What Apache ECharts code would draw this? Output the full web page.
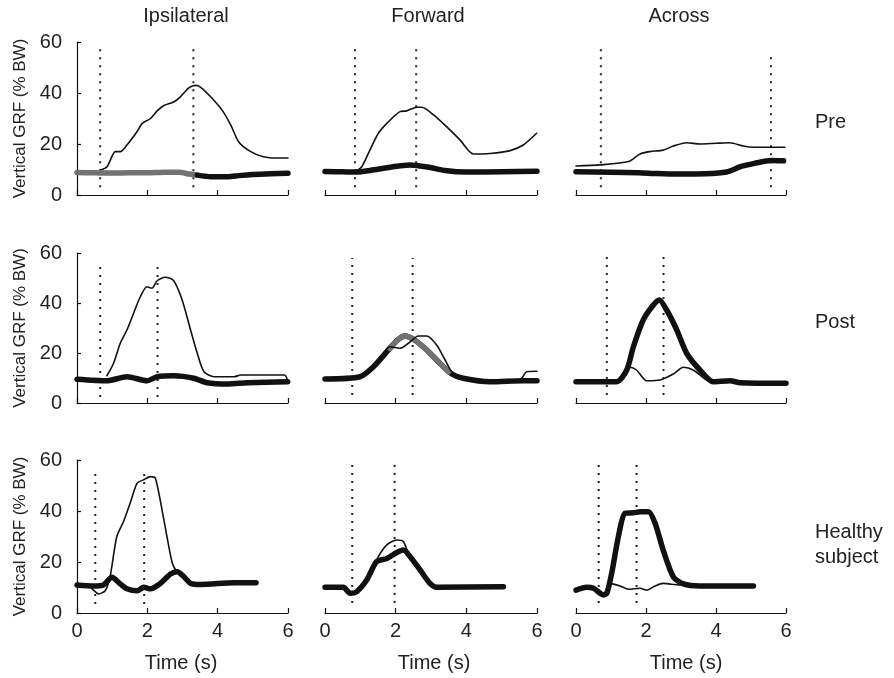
<!DOCTYPE html>
<html><head><meta charset="utf-8">
<script src="https://cdn.jsdelivr.net/npm/echarts@6/dist/echarts.min.js"></script>
<style>html,body{margin:0;padding:0;background:#fff}#c{width:894px;height:678px}</style>
</head><body><div id="c"></div>
<script>
// ---------- DATA ----------
const columnTitles = ['Ipsilateral', 'Forward', 'Across'];
const rowTitles = ['Pre', 'Post', 'Healthy\nsubject'];
const yTicks = [0, 20, 40, 60];
const xTicks = [0, 2, 4, 6];
const yAxisTitle = 'Vertical GRF (% BW)';
const xAxisTitle = 'Time (s)';

// Row 1: Pre
const ipsiPreThin = [[0.66,9.8],[0.85,11],[1.09,17],[1.23,17],[1.42,19.6],[1.7,24.7],[1.85,28],[2.09,30],[2.28,33],[2.46,35],[2.75,36.5],[2.94,38.5],[3.18,42],[3.37,43],[3.5,42.4],[3.8,38.5],[4.14,33],[4.37,27.5],[4.6,20.8],[4.94,17],[5.3,15],[5.7,14.5],[6.0,14.5]];
const ipsiPreThickGrey = [[0,8.8],[0.5,8.7],[1,8.6],[1.5,8.7],[2,8.7],[2.5,8.9],[2.9,8.9],[3.2,8.2],[3.42,7.8]];
const ipsiPreThick = [[3.42,7.8],[3.8,7.2],[4.3,7.2],[4.6,7.6],[5,8],[5.5,8.3],[6,8.5]];
const fwdPreThin = [[0.85,9.2],[1.04,11.1],[1.27,17.6],[1.51,24.2],[1.75,28.1],[2.12,32.7],[2.31,33],[2.6,34.4],[2.74,34.4],[3.07,31.4],[3.44,26.8],[3.82,21.6],[4.2,16.1],[4.67,16.3],[5.24,17.4],[5.61,19.6],[5.99,24.2]];
const fwdPreThick = [[0,9.2],[0.5,9.1],[0.9,9.0],[1.3,9.7],[1.8,10.8],[2.4,11.8],[2.9,11.0],[3.4,9.6],[4,9.0],[5,9.1],[6,9.3]];
const acrPreThin = [[0,11.4],[0.69,11.8],[1.5,13.1],[1.83,16.1],[2.11,17],[2.49,17.6],[2.78,19.2],[3.16,20.5],[3.54,20],[4.02,20.3],[4.4,20.5],[4.78,19.2],[5.07,18.7],[5.54,18.7],[5.97,18.7]];
const acrPreThick = [[0,9.1],[1,8.9],[1.8,8.7],[2.3,8.4],[2.9,8.2],[3.7,8.3],[4.3,9.0],[4.7,11.1],[5.1,12.4],[5.57,13.5],[5.93,13.4]];

// Row 2: Post
const ipsiPostThin = [[0.85,10.9],[1.04,15.9],[1.23,23.9],[1.42,29.2],[1.61,35.9],[1.8,42.5],[1.99,46.5],[2.13,45.9],[2.28,48.9],[2.51,50.3],[2.75,48.9],[2.99,41.2],[3.23,29.2],[3.42,19.9],[3.61,12.5],[3.9,10.5],[4.47,10.5],[4.66,11.2],[5.9,11.2],[5.99,8.9]];
const ipsiPostThick = [[0,9.5],[0.85,8.9],[1.42,10.5],[1.99,8.9],[2.28,10.5],[2.75,10.9],[3.32,9.9],[3.7,8.1],[4.28,7.6],[4.85,8.1],[5.99,8.5]];
const fwdPostThin = [[0,9.6],[0.99,10.5],[1.37,14.5],[1.84,22.5],[2.12,21.9],[2.36,23.9],[2.64,26.8],[2.88,26.8],[3.16,23.2],[3.4,17.2],[3.59,12.5],[3.91,10],[4.67,8.8],[5.5,9],[5.71,12.5],[6,12.7]];
const fwdPostThick = [[0,9.6],[0.99,10.5],[1.37,14.5],[1.75,20.5],[2.03,24.9],[2.26,26.8],[2.5,25.5],[2.88,21.2],[3.25,15.9],[3.59,11.6],[3.91,9.9],[4.67,8.5],[5.61,8.9],[6,8.9]];
const fwdPostThickGrey = [[1.84,21.8],[2.03,24.9],[2.26,26.8],[2.5,25.5],[2.88,21.2],[3.25,15.9],[3.5,12.5]];
const acrPostThin = [[0,8.5],[1.16,8.5],[1.4,12],[1.54,14.3],[1.73,13.2],[2.02,8.9],[2.4,9.2],[2.78,11.6],[3.07,14.3],[3.35,13.2],[3.73,9.2],[3.95,8.4]];
const acrPostThick = [[0,8.5],[1.16,8.5],[1.45,13.2],[1.64,22.5],[1.92,33.2],[2.21,39.2],[2.38,41.2],[2.59,37.2],[2.88,29.2],[3.16,19.9],[3.54,13.2],[3.92,8.5],[4.4,8.9],[4.69,8.1],[6,7.9]];

// Row 3: Healthy subject
const ipsiHealthyThin = [[0,11],[0.3,10.8],[0.47,9],[0.61,7.5],[0.8,8.7],[0.94,14.2],[1.13,29.9],[1.32,35.8],[1.51,43],[1.71,50.9],[1.89,52.2],[2.09,53.5],[2.23,52.8],[2.47,36.5],[2.71,19.5],[2.85,16.2],[3.04,14.2],[3.23,11.6],[3.51,11.2],[4.47,11.9],[5.09,11.9]];
const ipsiHealthyThick = [[0,11],[0.47,10.6],[0.75,11],[0.99,14],[1.23,11.4],[1.42,9.5],[1.71,8.7],[1.9,10.1],[2.09,9.5],[2.37,11.6],[2.66,15.3],[2.85,16.2],[3.04,14.2],[3.23,11.6],[3.51,11.2],[4.47,11.9],[5.09,11.9]];
const fwdHealthyThin = [[0,10.1],[0.52,10.1],[0.71,7.7],[0.9,8.4],[1.18,12.9],[1.51,22.1],[1.75,26.7],[2.03,28.6],[2.22,28],[2.36,23.4],[2.69,16.9],[2.97,11.6],[3.16,10.1],[3.56,9.9]];
const fwdHealthyThick = [[0,10.1],[0.52,10.1],[0.71,7.7],[0.9,8.4],[1.18,12.9],[1.46,20.1],[1.75,21.4],[2.03,23.7],[2.22,24.7],[2.41,22.1],[2.69,16.9],[2.97,11.6],[3.16,10.1],[5.05,10.3]];
const acrHealthyThin = [[0,9],[0.3,10.1],[0.5,9.7],[0.78,7.1],[0.88,8.5],[0.97,11.6],[1.26,10.6],[1.5,9.3],[1.83,9.7],[2.02,9],[2.26,10.6],[2.49,11.6],[2.97,11],[3.3,11]];
const acrHealthyThick = [[0,9],[0.3,10.1],[0.5,9.7],[0.78,7.1],[0.88,7.7],[1.02,15.6],[1.21,29.9],[1.4,39.1],[1.64,39.3],[1.83,39.7],[2.07,39.7],[2.26,35.2],[2.49,24.7],[2.78,14.2],[3.07,11.4],[3.54,10.6],[5.07,10.6]];

// Event markers (s) per panel, row-major
const eventTimes = [[0.66,3.31],[0.85,2.58],[0.71,5.57],[0.66,2.29],[0.77,2.48],[0.88,2.5],[0.52,1.91],[0.77,1.97],[0.65,1.73]];
// Vertical extent of each marker (% BW), per panel
const eventSpan = [[[3,58.8],[3,58.8]],[[3,58.8],[3,58.8]],[[3,58.8],[3,55.7]],[[2.4,55],[2.4,55]],[[3.2,58],[3.2,58]],[[3.2,58.5],[3.2,58.5]],[[3.5,55],[3.5,55]],[[3.9,58],[3.9,58]],[[3.9,58],[3.9,58]]];

// ---------- LAYOUT ----------
const FONT = "'Liberation Sans', Arial, Helvetica, sans-serif";
const INK = '#111';
const GREY = '#727272';
const colBox = [{left:77,width:211},{left:325,width:212},{left:576,width:210}];
const rowBox = [{top:42,height:153},{top:253,height:150},{top:460,height:153}];

const panels = [
  [{d:ipsiPreThin,k:'thin'},{d:ipsiPreThickGrey,k:'grey'},{d:ipsiPreThick,k:'thick'}],
  [{d:fwdPreThin,k:'thin'},{d:fwdPreThick,k:'thick'}],
  [{d:acrPreThin,k:'thin'},{d:acrPreThick,k:'thick'}],
  [{d:ipsiPostThin,k:'thin'},{d:ipsiPostThick,k:'thick'}],
  [{d:fwdPostThick,k:'thick'},{d:fwdPostThickGrey,k:'grey'},{d:fwdPostThin,k:'thin'}],
  [{d:acrPostThin,k:'thin'},{d:acrPostThick,k:'thick'}],
  [{d:ipsiHealthyThin,k:'thin'},{d:ipsiHealthyThick,k:'thick'}],
  [{d:fwdHealthyThin,k:'thin'},{d:fwdHealthyThick,k:'thick'}],
  [{d:acrHealthyThin,k:'thin'},{d:acrHealthyThick,k:'thick'}]
];

const grid = [], xAxis = [], yAxis = [], series = [];
for (let r = 0; r < 3; r++) {
  for (let c = 0; c < 3; c++) {
    const p = r * 3 + c;
    grid.push({left: colBox[c].left, width: colBox[c].width, top: rowBox[r].top, height: rowBox[r].height, containLabel: false});
    xAxis.push({
      type: 'value', gridIndex: p, min: xTicks[0], max: xTicks[xTicks.length-1], interval: xTicks[1]-xTicks[0],
      axisLine: {show: true, onZero: false, lineStyle: {color: INK, width: 1.2}},
      axisTick: {show: true, inside: true, length: 5, lineStyle: {color: INK, width: 1.2}},
      axisLabel: {show: r === 2, fontSize: 20, color: '#222', fontFamily: FONT, margin: 8},
      splitLine: {show: false}
    });
    yAxis.push({
      type: 'value', gridIndex: p, min: yTicks[0], max: yTicks[yTicks.length-1], interval: yTicks[1]-yTicks[0],
      show: c === 0, offset: 9,
      name: c === 0 ? yAxisTitle : '', nameLocation: 'middle', nameGap: 39,
      nameTextStyle: {fontSize: 17, color: '#222', fontFamily: FONT},
      axisLine: {show: true, lineStyle: {color: INK, width: 1.2}},
      axisTick: {show: true, inside: true, length: 4, lineStyle: {color: INK, width: 1.2}},
      axisLabel: {fontSize: 20, color: '#222', fontFamily: FONT, margin: 6},
      splitLine: {show: false}
    });
    eventTimes[p].forEach((t, i) => {
      series.push({
        type: 'line', xAxisIndex: p, yAxisIndex: p, symbol: 'none', silent: true,
        data: [[t, eventSpan[p][i][0]], [t, eventSpan[p][i][1]]],
        lineStyle: {color: '#222', width: 2, type: [2, 6], cap: 'butt'}
      });
    });
    panels[p].forEach(layer => {
      const thin = layer.k === 'thin';
      series.push({
        type: 'line', xAxisIndex: p, yAxisIndex: p, symbol: 'none', silent: true,
        smooth: 0.25, data: layer.d,
        lineStyle: {color: layer.k === 'grey' ? GREY : INK, width: thin ? 1.6 : 5.5, cap: 'round', join: 'round'}
      });
    });
  }
}

const graphic = [];
const colTitleX = [186, 428, 679];
columnTitles.forEach((t, i) => graphic.push({type: 'text', x: colTitleX[i], y: 16, style: {text: t, font: '20px ' + FONT, fill: '#222', textAlign: 'center', textVerticalAlign: 'middle'}}));
const rowTitleY = [122, 322, 545];
rowTitles.forEach((t, i) => graphic.push({type: 'text', x: 815, y: rowTitleY[i], style: {text: t, font: '20px ' + FONT, fill: '#222', textAlign: 'left', textVerticalAlign: 'middle', lineHeight: 25}}));
const timeX = [181, 434, 686];
timeX.forEach(x => graphic.push({type: 'text', x: x, y: 663, style: {text: xAxisTitle, font: '20px ' + FONT, fill: '#222', textAlign: 'center', textVerticalAlign: 'middle'}}));

const chart = echarts.init(document.getElementById('c'), null, {renderer: 'canvas'});
chart.setOption({animation: false, backgroundColor: '#fff', grid, xAxis, yAxis, series, graphic});
</script></body></html>
